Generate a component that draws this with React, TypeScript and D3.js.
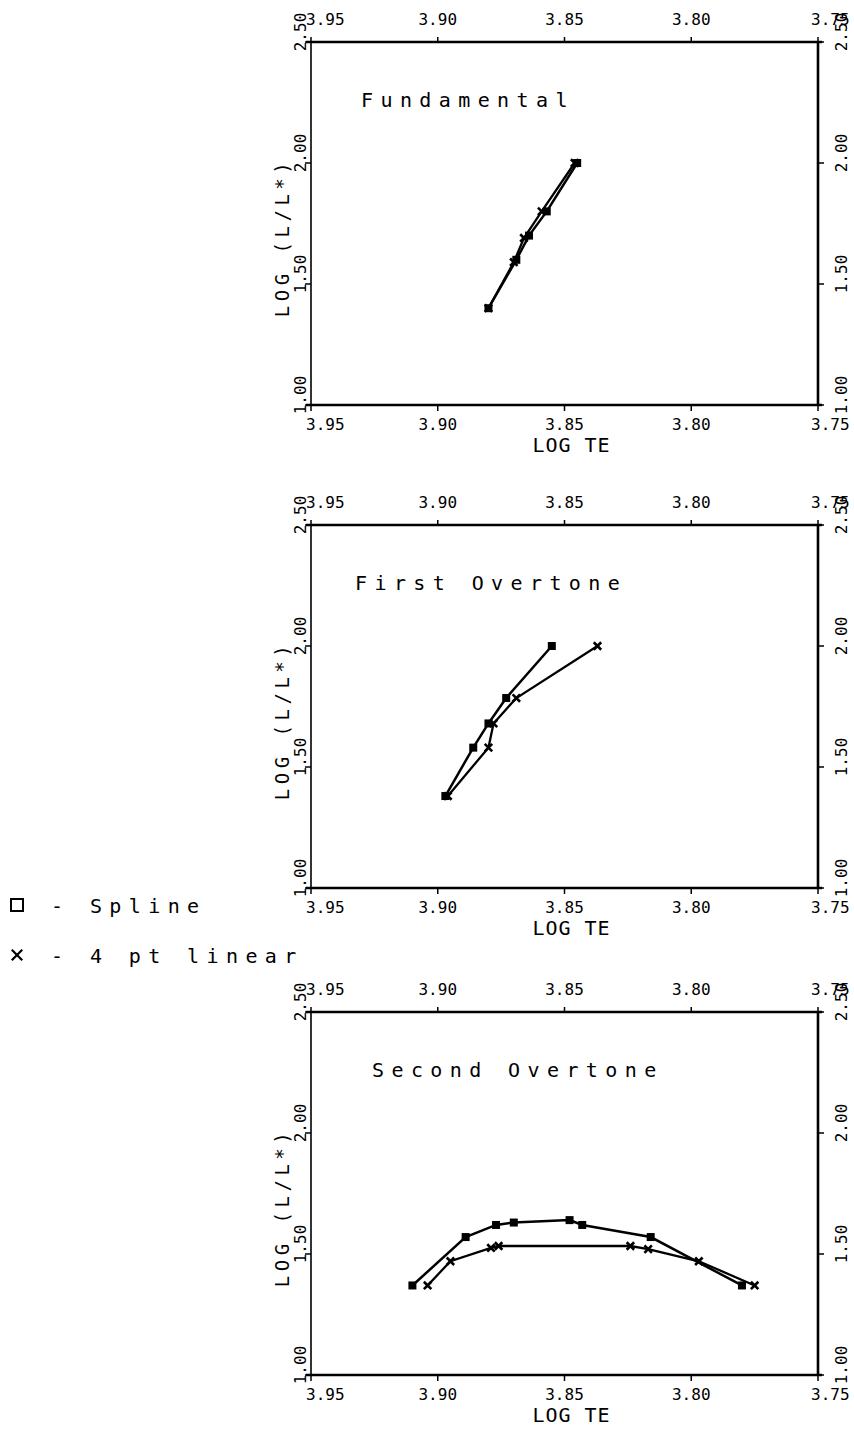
import React from "react";
import * as d3 from "d3";

// Axis ticks
const logTeTicks = [3.95, 3.9, 3.85, 3.8, 3.75];
const logLTicks = [1.0, 1.5, 2.0, 2.5];

// Fundamental mode
const fundSplineTe = [3.88, 3.869, 3.864, 3.857, 3.845];
const fundSplineL = [1.4, 1.6, 1.7, 1.8, 2.0];
const fundLinearTe = [3.88, 3.87, 3.866, 3.859, 3.846];
const fundLinearL = [1.4, 1.59, 1.69, 1.8, 2.0];

// First overtone
const firstSplineTe = [3.897, 3.886, 3.88, 3.873, 3.855];
const firstSplineL = [1.38, 1.58, 1.68, 1.785, 2.0];
const firstLinearTe = [3.896, 3.88, 3.878, 3.869, 3.837];
const firstLinearL = [1.38, 1.58, 1.68, 1.785, 2.0];

// Second overtone
const secondSplineTe = [3.91, 3.889, 3.877, 3.87, 3.848, 3.843, 3.816, 3.78];
const secondSplineL = [1.37, 1.57, 1.62, 1.63, 1.64, 1.62, 1.57, 1.37];
const secondLinearTe = [3.904, 3.895, 3.879, 3.876, 3.824, 3.817, 3.797, 3.775];
const secondLinearL = [1.37, 1.47, 1.525, 1.533, 1.533, 1.52, 1.47, 1.37];

const panelTitles = ["Fundamental", "First Overtone", "Second Overtone"];
const legendLabels = ["Spline", "4 pt linear"];

const W = 854;
const H = 1441;
const LEFT = 311;
const RIGHT = 818;
const PH = 363;
const panelTops = [42, 525, 1012];
const titleX = [361, 355, 372];

const FONT = "'DejaVu Sans Mono', monospace";

type Pt = [number, number];
const zip = (a: number[], b: number[]): Pt[] => a.map((v, i) => [v, b[i]]);

const panelData = [
  { spline: zip(fundSplineTe, fundSplineL), linear: zip(fundLinearTe, fundLinearL) },
  { spline: zip(firstSplineTe, firstSplineL), linear: zip(firstLinearTe, firstLinearL) },
  { spline: zip(secondSplineTe, secondSplineL), linear: zip(secondLinearTe, secondLinearL) },
];

const fmt = d3.format(".2f");
const crossPath = d3.symbol(d3.symbolTimes, 38)() as string;

function Panel({ idx }: { idx: number }) {
  const top = panelTops[idx];
  const bottom = top + PH;
  const x = d3.scaleLinear().domain([3.95, 3.75]).range([LEFT, RIGHT]);
  const y = d3.scaleLinear().domain([1.0, 2.5]).range([bottom, top]);
  const line = d3
    .line<Pt>()
    .x((d) => x(d[0]))
    .y((d) => y(d[1]));
  const { spline, linear } = panelData[idx];

  const last = logTeTicks.length - 1;
  const xAnchor = (i: number) => (i === 0 || i === last ? "start" : "middle");
  const xShift = (i: number) => (i === 0 ? -5 : i === last ? -7 : 0);

  return (
    <g>
      {/* frame */}
      <line x1={LEFT - 5} x2={RIGHT + 4} y1={top} y2={top} stroke="#000" strokeWidth={2.6} />
      <line x1={LEFT - 5} x2={RIGHT + 4} y1={bottom} y2={bottom} stroke="#000" strokeWidth={2.6} />
      <line x1={LEFT} x2={LEFT} y1={top} y2={bottom} stroke="#000" strokeWidth={1.6} />
      <line x1={RIGHT} x2={RIGHT} y1={top} y2={bottom} stroke="#000" strokeWidth={2.6} />

      {/* x ticks and labels */}
      {logTeTicks.map((t, i) => (
        <g key={"xt" + i}>
          <line x1={x(t)} x2={x(t)} y1={top - 5} y2={top} stroke="#000" strokeWidth={1.5} />
          <line x1={x(t)} x2={x(t)} y1={bottom} y2={bottom + 6} stroke="#000" strokeWidth={1.5} />
          <text
            x={x(t) + xShift(i)}
            y={top - 17}
            textAnchor={xAnchor(i)}
            fontFamily={FONT}
            fontSize={16}
          >
            {fmt(t)}
          </text>
          <text
            x={x(t) + xShift(i)}
            y={bottom + 25}
            textAnchor={xAnchor(i)}
            fontFamily={FONT}
            fontSize={16}
          >
            {fmt(t)}
          </text>
        </g>
      ))}

      {/* y ticks and labels */}
      {logLTicks.map((t, i) => (
        <g key={"yt" + i}>
          <line x1={LEFT - 6} x2={LEFT} y1={y(t)} y2={y(t)} stroke="#000" strokeWidth={1.5} />
          <line x1={RIGHT} x2={RIGHT + 6} y1={y(t)} y2={y(t)} stroke="#000" strokeWidth={1.5} />
          <text
            transform={`translate(${LEFT - 5},${y(t) - 10}) rotate(-90)`}
            textAnchor="middle"
            fontFamily={FONT}
            fontSize={16}
          >
            {fmt(t)}
          </text>
          <text
            transform={`translate(${RIGHT + 29},${y(t) - 10}) rotate(-90)`}
            textAnchor="middle"
            fontFamily={FONT}
            fontSize={16}
          >
            {fmt(t)}
          </text>
        </g>
      ))}

      {/* axis titles */}
      <text
        x={(LEFT + RIGHT) / 2 + 7}
        y={bottom + 47}
        textAnchor="middle"
        fontFamily={FONT}
        fontSize={20}
        letterSpacing={1}
      >
        LOG TE
      </text>
      <text
        transform={`translate(${LEFT - 22},${(top + bottom) / 2 + 14}) rotate(-90)`}
        textAnchor="middle"
        fontFamily={FONT}
        fontSize={19}
        letterSpacing={4.5}
      >
        LOG (L/L*)
      </text>

      {/* panel title */}
      <text
        x={titleX[idx]}
        y={top + 65}
        fontFamily={FONT}
        fontSize={20}
        letterSpacing={7.4}
      >
        {panelTitles[idx]}
      </text>

      {/* 4 pt linear */}
      <path d={line(linear) as string} fill="none" stroke="#000" strokeWidth={2.3} />
      {linear.map((d, i) => (
        <path
          key={"lx" + i}
          d={crossPath}
          transform={`translate(${x(d[0])},${y(d[1])})`}
          fill="none"
          stroke="#000"
          strokeWidth={2.6}
        />
      ))}

      {/* spline */}
      <path d={line(spline) as string} fill="none" stroke="#000" strokeWidth={2.5} />
      {spline.map((d, i) => (
        <rect
          key={"sq" + i}
          x={x(d[0]) - 4}
          y={y(d[1]) - 4}
          width={8}
          height={8}
          fill="#000"
        />
      ))}
    </g>
  );
}

export default function App() {
  return (
    <svg
      width={W}
      height={H}
      viewBox={`0 0 ${W} ${H}`}
      style={{ position: "absolute", left: 0, top: 0, background: "#fff" }}
    >
      <rect width={W} height={H} fill="#fff" />
      {panelTops.map((_, i) => (
        <Panel key={i} idx={i} />
      ))}

      {/* legend */}
      <rect x={11} y={899} width={12} height={12} fill="none" stroke="#000" strokeWidth={2} />
      <text x={51} y={913} fontFamily={FONT} fontSize={20} letterSpacing={7.4}>
        - {legendLabels[0]}
      </text>
      <path
        d={crossPath}
        transform="translate(17,955) scale(1.4)"
        fill="none"
        stroke="#000"
        strokeWidth={1.6}
      />
      <text x={51} y={963} fontFamily={FONT} fontSize={20} letterSpacing={7.4}>
        - {legendLabels[1]}
      </text>
    </svg>
  );
}
